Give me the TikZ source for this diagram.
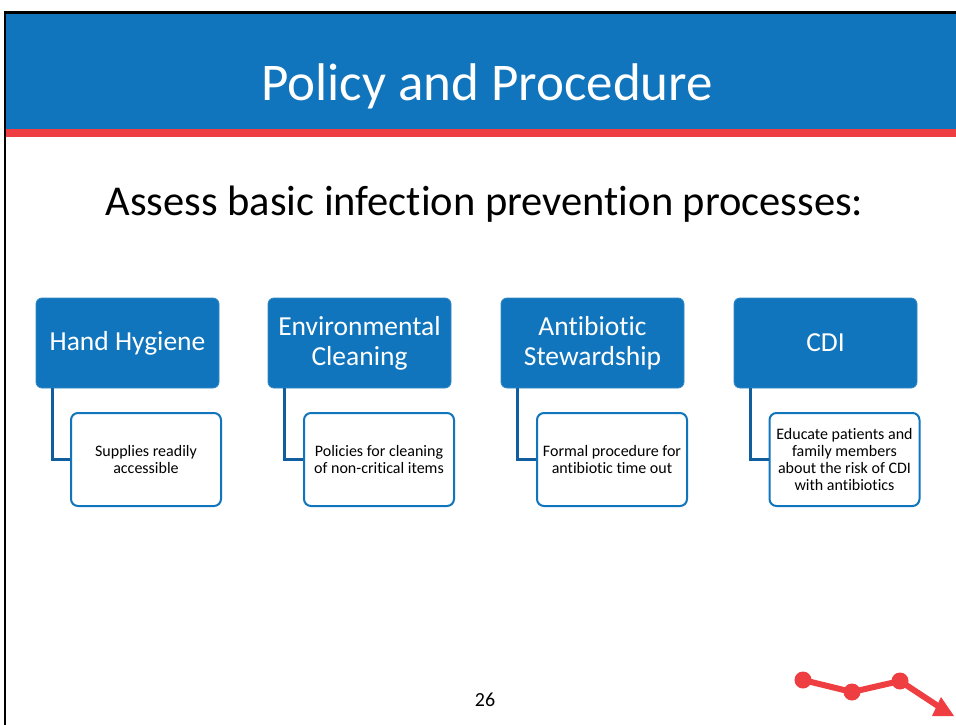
\documentclass[tikz,border=0pt]{standalone}
\usepackage{fontspec}
\setmainfont[Ligatures=NoCommon]{Carlito}
\definecolor{hdrblue}{HTML}{1075BC}
\definecolor{linkblue}{HTML}{105E9E}
\definecolor{hdrred}{HTML}{EF3E42}
\begin{document}
\begin{tikzpicture}[x=1pt,y=-1pt,
  topbox/.style={fill=hdrblue,draw=hdrblue!85!white,line width=0.8pt,rounded corners=6pt,minimum width=183pt,minimum height=90pt,text=white,align=center,inner sep=2pt,font=\fontsize{27.5}{30}\selectfont},
  subbox/.style={fill=white,draw=hdrblue,line width=2pt,rounded corners=7pt,minimum width=150pt,minimum height=93pt,text=black,align=center,inner sep=2pt,font=\fontsize{16}{16.7}\selectfont},
  link/.style={draw=linkblue,line width=2.5pt}]
\useasboundingbox (0,0) rectangle (956,725);
\fill[white] (0,0) rectangle (956,725);
% header
\fill[hdrblue] (5,13) rectangle (956,129);
\fill[hdrred] (5,129) rectangle (956,137);
\draw[black,line width=2.5pt] (956,12.5) -- (5,12.5) -- (5,725);
\node[anchor=base,text=white,font=\fontsize{53}{60}\selectfont,inner sep=0pt] (title) at (487,100) {Policy and Procedure};
\node[anchor=base,text=black,font=\fontsize{42.5}{48}\selectfont,inner sep=0pt] (sub) at (484.5,215) {Assess basic infection prevention processes:};
% boxes
\node[topbox] (b1) at (127.5,343) {Hand Hygiene};
\node[topbox] (b2) at (359.5,343) {Environmental\\Cleaning};
\node[topbox] (b3) at (592.5,343) {Antibiotic\\Stewardship};
\node[topbox] (b4) at (825.5,343) {CDI};
\node[subbox] (c1) at (146,459.5) {Supplies readily\\accessible};
\node[subbox] (c2) at (379,459.5) {Policies for cleaning\\of non-critical items};
\node[subbox] (c3) at (612,459.5) {Formal procedure for\\antibiotic time out};
\node[subbox] (c4) at (844.5,459.5) {Educate patients and\\family members\\about the risk of CDI\\with antibiotics};
\foreach \i in {1,...,4}{
  \draw[link] ([xshift=17pt]b\i.south west) |- (c\i.west);
}
% page number
\node[anchor=base,font=\fontsize{20}{22}\selectfont,inner sep=0pt] (pg) at (485,706) {26};
% logo
\coordinate (l1) at (803,680);
\coordinate (l2) at (852,692);
\coordinate (l3) at (900,681);
\coordinate (l4) at (941,708);
\draw[hdrred,line width=6pt,line join=round] (l1) -- (l2) -- (l3) -- (l4);
\fill[hdrred] (l1) circle (8.5);
\fill[hdrred] (l2) circle (8.5);
\fill[hdrred] (l3) circle (8.5);
\fill[hdrred] (941,697) -- (932,716) -- (954,716) -- cycle;
\end{tikzpicture}
\end{document}
